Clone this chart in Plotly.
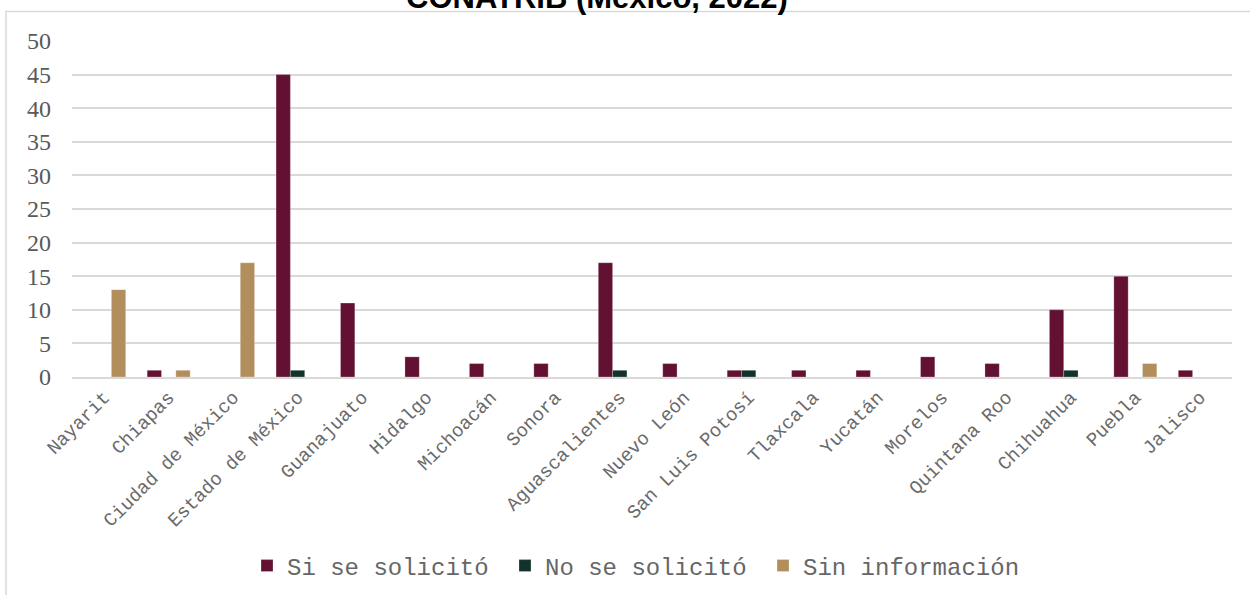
import plotly.graph_objects as go

categories = ["Nayarit", "Chiapas", "Ciudad de México", "Estado de México", "Guanajuato",
              "Hidalgo", "Michoacán", "Sonora", "Aguascalientes", "Nuevo León",
              "San Luis Potosí", "Tlaxcala", "Yucatán", "Morelos", "Quintana Roo",
              "Chihuahua", "Puebla", "Jalisco"]
si_se_solicito = [0, 1, 0, 45, 11, 3, 2, 2, 17, 2, 1, 1, 1, 3, 2, 10, 15, 1]
no_se_solicito = [0, 0, 0, 1, 0, 0, 0, 0, 1, 0, 1, 0, 0, 0, 0, 1, 0, 0]
sin_informacion = [13, 1, 17, 0, 0, 0, 0, 0, 0, 0, 0, 0, 0, 0, 0, 0, 2, 0]
title_text = "CONATRIB (México, 2022)"

series = [
    ("Si se solicitó", si_se_solicito, "#621132"),
    ("No se solicitó", no_se_solicito, "#13322B"),
    ("Sin información", sin_informacion, "#B38E5D"),
]

fig = go.Figure()
for name, vals, color in series:
    fig.add_trace(go.Bar(
        x=categories, y=vals, name=name,
        marker=dict(color=color, line=dict(color="rgba(255,255,255,0.5)", width=0.5)),
    ))

L, R, T, B = 72, 18, 41, 218
W, H = 1250, 595
pw, ph = W - L - R, H - T - B

def px_x(px):
    return (px - L) / pw

def px_y(py):
    return (H - B - py) / ph

fig.update_layout(
    width=W, height=H,
    margin=dict(l=L, r=R, t=T, b=B, pad=0, autoexpand=False),
    paper_bgcolor="white", plot_bgcolor="white",
    barmode="group", bargap=0.333, bargroupgap=0,
    showlegend=True,
    legend=dict(orientation="h", xref="container", yref="container",
                x=634 / W, xanchor="center", y=1 - 566 / H, yanchor="middle",
                font=dict(family="Liberation Mono", size=24, color="#666666"),
                itemwidth=30, entrywidth=213, entrywidthmode="pixels", traceorder="normal"),
    xaxis=dict(tickangle=-45, tickfont=dict(family="Liberation Mono", size=19, color="#6a6a6a"),
               showgrid=False, showline=True, linecolor="#d9d9d9", linewidth=1.5,
               ticks="", automargin=False),
    yaxis=dict(range=[0, 50], dtick=5, tickfont=dict(family="Liberation Serif", size=24, color="#595959"),
               showgrid=True, gridcolor="#d9d9d9", gridwidth=1.5, zeroline=False,
               showline=False, ticks="", ticklabelstandoff=20, automargin=False),
    shapes=[dict(type="rect", xref="paper", yref="paper",
                 x0=px_x(6), x1=px_x(1262), y0=px_y(610), y1=px_y(11.5),
                 line=dict(color="#d9d9d9", width=1.5), fillcolor="rgba(0,0,0,0)", layer="below")],
    annotations=[dict(text="<b>" + title_text + "</b>", xref="paper", yref="paper",
                      x=px_x(597), y=px_y(-3), xanchor="center", yanchor="middle",
                      showarrow=False, font=dict(family="Liberation Sans", size=31, color="black"))],
)

fig.write_html("out.html", config={"displayModeBar": False},
               post_script="document.body.style.margin='0';document.body.style.overflow='hidden';")
